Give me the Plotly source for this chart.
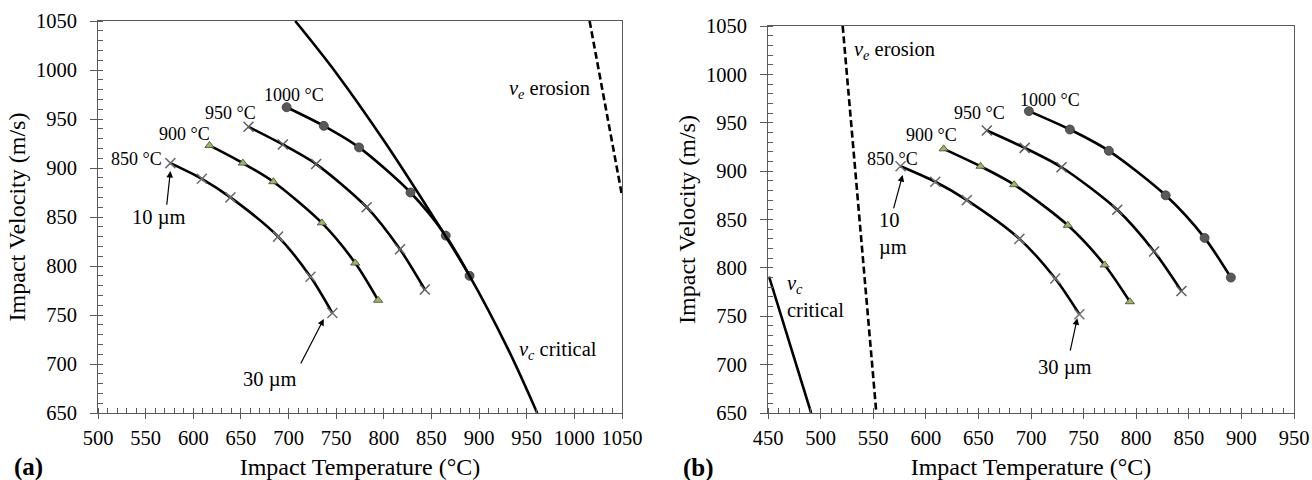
import plotly.graph_objects as go

# ---------------- data ----------------
T850 = [576, 609, 639, 689, 723, 746]
V850 = [905, 889, 870, 830, 789, 752]
T900 = [617, 652, 684, 735, 770, 794]
V900 = [923, 905, 886, 844, 803, 765]
T950 = [658, 694, 729, 782, 817, 843]
V950 = [942, 924, 904, 860, 817, 776]
T1000 = [698, 737, 774, 828, 865, 890]
V1000 = [962, 943, 921, 875, 831, 790]

# critical (v_c) and erosion (v_e) velocity lines
TC_A = [707, 750, 800, 850, 890, 930, 961]
VC_A = [1050, 997, 928, 853, 790, 716, 650]
TE_A = [1016, 1050]
VE_A = [1050, 872]
TC_B = [451, 471, 491]
VC_B = [791, 720, 650]
TE_B = [521, 553]
VE_B = [1050, 650]

XRANGE_A = [500, 1050]
XRANGE_B = [450, 950]
YRANGE = [650, 1050]

FONT = "Liberation Serif"
AXC = "#5a5a5a"
DASH = "7px,3.5px"

fig = go.Figure()

series = [
    (T850, V850, dict(symbol="x-thin", size=10, color="#7f7f7f", line=dict(color="#6f6f6f", width=1.5))),
    (T900, V900, dict(symbol="triangle-up", size=8, color="#9bbb59", line=dict(color="#3f3f3f", width=0.8))),
    (T950, V950, dict(symbol="x-thin", size=10, color="#7f7f7f", line=dict(color="#5f5f5f", width=1.5))),
    (T1000, V1000, dict(symbol="circle", size=9, color="#595959", line=dict(color="#3a3a3a", width=0.8))),
]

for xa, ya in [("x", "y"), ("x2", "y2")]:
    for tx, vy, mk in series:
        fig.add_trace(go.Scatter(x=tx, y=vy, mode="lines+markers", xaxis=xa, yaxis=ya,
                                 line=dict(color="black", width=2.6, shape="spline", smoothing=0.8),
                                 marker=mk, showlegend=False, hoverinfo="skip"))

fig.add_trace(go.Scatter(x=TC_A, y=VC_A, mode="lines", xaxis="x", yaxis="y",
                         line=dict(color="black", width=2.6, shape="spline", smoothing=1.0),
                         showlegend=False, hoverinfo="skip"))
fig.add_trace(go.Scatter(x=TE_A, y=VE_A, mode="lines", xaxis="x", yaxis="y",
                         line=dict(color="black", width=2.6, dash=DASH),
                         showlegend=False, hoverinfo="skip"))
fig.add_trace(go.Scatter(x=TC_B, y=VC_B, mode="lines", xaxis="x2", yaxis="y2",
                         line=dict(color="black", width=2.6),
                         showlegend=False, hoverinfo="skip"))
fig.add_trace(go.Scatter(x=TE_B, y=VE_B, mode="lines", xaxis="x2", yaxis="y2",
                         line=dict(color="black", width=2.6, dash=DASH),
                         showlegend=False, hoverinfo="skip"))

# dummy traces for overlay axes (inside half of crossing major ticks)
fig.add_trace(go.Scatter(x=[None], y=[None], xaxis="x3", yaxis="y3", showlegend=False))
fig.add_trace(go.Scatter(x=[None], y=[None], xaxis="x4", yaxis="y4", showlegend=False))

XD_A = [98 / 1312, 622 / 1312]
XD_B = [768 / 1312, 1294 / 1312]
YD_A = [(480 - 413) / 480, (480 - 21) / 480]
YD_B = [(480 - 413) / 480, (480 - 26) / 480]

tickfont = dict(family=FONT, size=20.5, color="black")
titlefont = dict(family=FONT, size=24, color="black")


def xax(domain, rng, anchor, title):
    return dict(domain=domain, range=rng, anchor=anchor, dtick=50, tick0=0, automargin=False,
                ticks="outside", ticklen=5, tickwidth=1, tickcolor=AXC,
                showline=True, linecolor=AXC, linewidth=1, mirror=True,
                showgrid=False, zeroline=False, tickfont=tickfont, ticklabelstandoff=1,
                minor=dict(dtick=10, ticks="inside", ticklen=5, tickcolor=AXC, tickwidth=1, showgrid=False),
                title=dict(text=title, font=titlefont, standoff=15))


def yax(domain, rng, anchor, title):
    return dict(domain=domain, range=rng, anchor=anchor, dtick=50, tick0=0, automargin=False,
                ticks="outside", ticklen=7, tickwidth=1, tickcolor=AXC,
                showline=True, linecolor=AXC, linewidth=1, mirror=True,
                showgrid=False, zeroline=False, tickfont=tickfont, ticklabelstandoff=9,
                minor=dict(dtick=10, ticks="inside", ticklen=5, tickcolor=AXC, tickwidth=1, showgrid=False),
                title=dict(text=title, font=titlefont, standoff=3))


def overlay_x(over, rng, anchor):
    return dict(overlaying=over, range=rng, anchor=anchor, dtick=50, tick0=0, side="bottom",
                automargin=False,
                ticks="inside", ticklen=4, tickcolor=AXC, tickwidth=1, showticklabels=False,
                showline=False, showgrid=False, zeroline=False)


def overlay_y(over, rng, anchor):
    return dict(overlaying=over, range=rng, anchor=anchor, dtick=50, tick0=0, side="left",
                automargin=False,
                ticks="inside", ticklen=4, tickcolor=AXC, tickwidth=1, showticklabels=False,
                showline=False, showgrid=False, zeroline=False)


ann = []


def txt(x, y, text, xref, yref, size=20.5, xanchor="center", yanchor="middle", align="center"):
    ann.append(dict(x=x, y=y, text=text, xref=xref, yref=yref, showarrow=False,
                    xanchor=xanchor, yanchor=yanchor, align=align,
                    font=dict(family=FONT, size=size, color="black")))


def arrow(x0, y0, x1, y1, xref, yref):
    ann.append(dict(x=x1, y=y1, ax=x0, ay=y0, xref=xref, yref=yref, axref=xref, ayref=yref,
                    text="", showarrow=True, arrowhead=2, arrowsize=1.1, arrowwidth=1.2,
                    arrowcolor="black"))


# panel (a)
txt(706, 974, "1000 °C", "x", "y", 18)
txt(639, 956, "950 °C", "x", "y", 18)
txt(591, 935, "900 °C", "x", "y", 18)
txt(569, 909, "850 °C", "x", "y", 18, xanchor="right")
txt(564, 849, "10 µm", "x", "y")
arrow(572, 861, 576, 897, "x", "y")
txt(680, 684, "30 µm", "x", "y")
arrow(712, 699, 737, 746, "x", "y")
txt(974, 980, "<i>v<sub>e</sub></i> erosion", "x", "y")
txt(983, 714, "<i>v<sub>c</sub></i> critical", "x", "y")

# panel (b)
txt(718, 974, "1000 °C", "x2", "y2", 18)
txt(651, 960, "950 °C", "x2", "y2", 18)
txt(605, 937, "900 °C", "x2", "y2", 18)
txt(568, 913, "850 °C", "x2", "y2", 18)
txt(569, 835, "10<br>µm", "x2", "y2", align="left")
arrow(569, 860, 578, 896, "x2", "y2")
txt(732, 697, "30 µm", "x2", "y2")
arrow(737, 713, 744, 748, "x2", "y2")
txt(570, 1025, "<i>v<sub>e</sub></i> erosion", "x2", "y2")
txt(466, 770, "<i>v<sub>c</sub></i><br>critical", "x2", "y2", xanchor="left", align="left")

# panel letters
ann.append(dict(x=12 / 1312, y=(480 - 467) / 480, xref="paper", yref="paper", text="<b>(a)</b>",
                showarrow=False, xanchor="left", yanchor="middle",
                font=dict(family=FONT, size=25, color="black")))
ann.append(dict(x=681 / 1312, y=(480 - 468) / 480, xref="paper", yref="paper", text="<b>(b)</b>",
                showarrow=False, xanchor="left", yanchor="middle",
                font=dict(family=FONT, size=25, color="black")))

fig.update_layout(
    width=1312, height=480,
    margin=dict(l=0, r=0, t=0, b=0, autoexpand=False),
    paper_bgcolor="white", plot_bgcolor="white",
    font=dict(family=FONT, color="black"),
    xaxis=xax(XD_A, XRANGE_A, "y", "Impact Temperature (°C)"),
    yaxis=yax(YD_A, YRANGE, "x", "Impact Velocity (m/s)"),
    xaxis2=xax(XD_B, XRANGE_B, "y2", "Impact Temperature (°C)"),
    yaxis2=yax(YD_B, YRANGE, "x2", "Impact Velocity (m/s)"),
    xaxis3=overlay_x("x", XRANGE_A, "y"),
    yaxis3=overlay_y("y", YRANGE, "x"),
    xaxis4=overlay_x("x2", XRANGE_B, "y2"),
    yaxis4=overlay_y("y2", YRANGE, "x2"),
    annotations=ann,
    showlegend=False,
)

fig.write_html("out.html")
